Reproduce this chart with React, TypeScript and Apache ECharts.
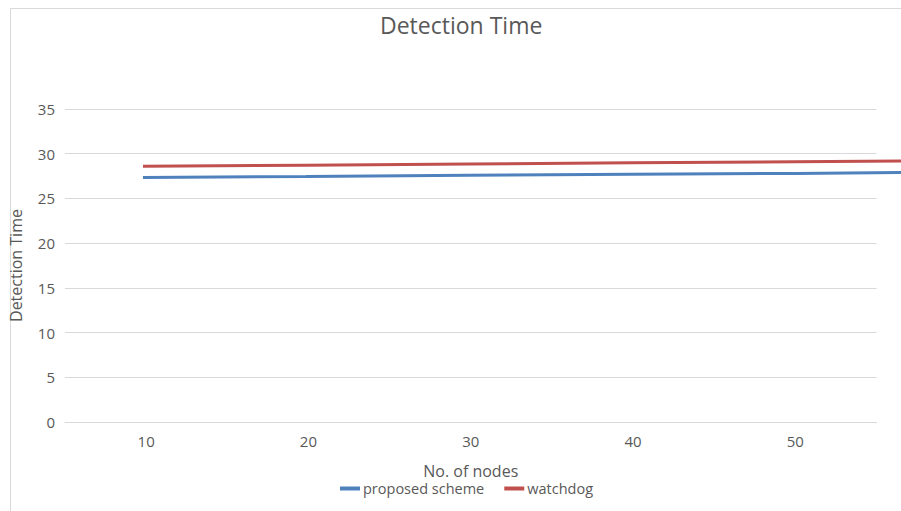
import React, { useEffect, useRef } from "react";
import * as echarts from "echarts";

const nodes = [10, 20, 30, 40, 50, 60];
const xTicks = [10, 20, 30, 40, 50];
const proposed = [27.35, 27.45, 27.6, 27.7, 27.8, 27.95];
const watchdog = [28.6, 28.72, 28.85, 28.98, 29.1, 29.22];

const FONT = "'Open Sans', 'Noto Sans', sans-serif";
const GRAY = "#595959";

const GRID_LEFT = 61.5;
const GRID_W = 815;
const WIDE_W = 901 - GRID_LEFT;
const WIDE_MAX = 5 + (WIDE_W * 50) / GRID_W;

export default function App() {
  const ref = useRef<HTMLDivElement>(null);
  useEffect(() => {
    const chart = echarts.init(ref.current!, undefined, { renderer: "svg" });
    chart.setOption({
      animation: false,
      backgroundColor: "#ffffff",
      textStyle: { fontFamily: FONT },
      title: {
        text: "Detection Time",
        left: 375,
        top: 8,
        textStyle: { fontFamily: FONT, fontSize: 23, fontWeight: "normal", color: GRAY },
      },
      graphic: [
        { type: "line", shape: { x1: 10.5, y1: 8.5, x2: 10.5, y2: 511 }, style: { stroke: "#d9d9d9", lineWidth: 1 } },
        { type: "line", shape: { x1: 10.5, y1: 8.5, x2: 901, y2: 8.5 }, style: { stroke: "#d9d9d9", lineWidth: 1 } },
      ],
      legend: {
        left: 335,
        top: 476,
        itemGap: 20,
        itemWidth: 20,
        itemHeight: 4,
        icon: "rect",
        textStyle: { fontFamily: FONT, fontSize: 14.5, color: GRAY, padding: [0, 0, 0, -2] },
        data: ["proposed scheme", "watchdog"],
      },
      grid: [
        { left: GRID_LEFT, top: 109, width: GRID_W, height: 313 },
        { left: GRID_LEFT, top: 109, width: WIDE_W, height: 313 },
      ],
      xAxis: [
        {
          type: "value",
          gridIndex: 0,
          min: 5,
          max: 55,
          interval: 5,
          name: "No. of nodes",
          nameLocation: "middle",
          nameGap: 41,
          nameTextStyle: { fontFamily: FONT, fontSize: 16, color: GRAY },
          axisLine: { show: true, lineStyle: { color: "#d9d9d9" } },
          axisTick: { show: false },
          splitLine: { show: false },
          axisLabel: {
            fontFamily: FONT,
            fontSize: 15,
            color: GRAY,
            margin: 11,
            formatter: (v: number) => (xTicks.includes(v) ? String(v) : ""),
          },
        },
        {
          type: "value",
          gridIndex: 1,
          min: 5,
          max: WIDE_MAX,
          show: false,
          splitLine: { show: false },
        },
      ],
      yAxis: [
        {
          type: "value",
          gridIndex: 0,
          min: 0,
          max: 35,
          interval: 5,
          name: "Detection Time",
          nameLocation: "middle",
          nameGap: 41,
          nameTextStyle: { fontFamily: FONT, fontSize: 16, color: GRAY },
          axisLine: { show: false },
          axisTick: { show: false },
          splitLine: { lineStyle: { color: "#d9d9d9" } },
          axisLabel: { fontFamily: FONT, fontSize: 15, color: GRAY, margin: 10 },
        },
        {
          type: "value",
          gridIndex: 1,
          min: 0,
          max: 35,
          show: false,
          splitLine: { show: false },
        },
      ],
      series: [
        {
          name: "proposed scheme",
          type: "line",
          xAxisIndex: 1,
          yAxisIndex: 1,
          data: nodes.map((n, i) => [n, proposed[i]]),
          showSymbol: false,
          itemStyle: { color: "#4F81BD" },
          lineStyle: { color: "#4F81BD", width: 3 },
        },
        {
          name: "watchdog",
          type: "line",
          xAxisIndex: 1,
          yAxisIndex: 1,
          data: nodes.map((n, i) => [n, watchdog[i]]),
          showSymbol: false,
          itemStyle: { color: "#C0504D" },
          lineStyle: { color: "#C0504D", width: 3 },
        },
      ],
    });
    return () => chart.dispose();
  }, []);
  return <div ref={ref} style={{ position: "fixed", left: 0, top: 0, width: 901, height: 511 }} />;
}
